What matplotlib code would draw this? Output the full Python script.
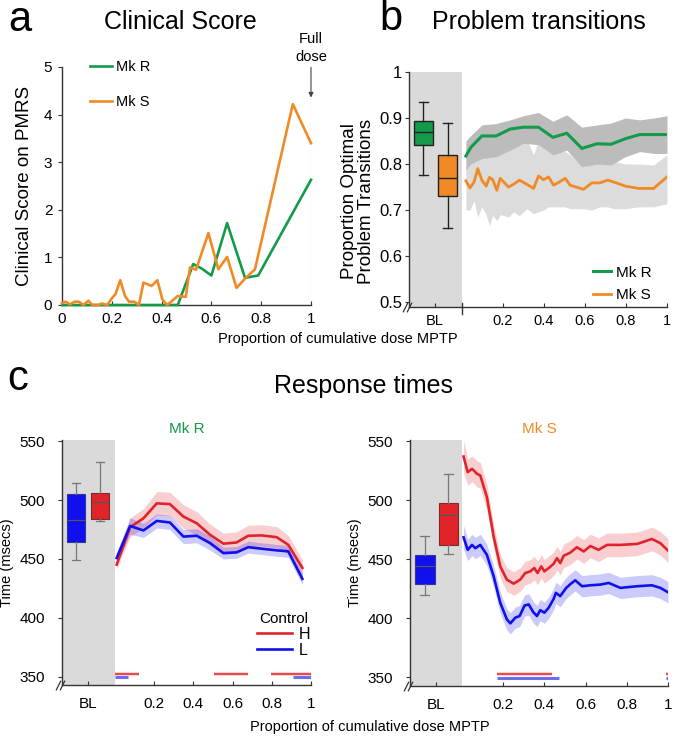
import matplotlib
matplotlib.use("Agg")
import matplotlib.pyplot as plt
import matplotlib.transforms as mtrans

plt.rcParams['font.family'] = ['Liberation Sans', 'DejaVu Sans']

# ---------------- data ----------------
# Panel a: clinical score
a_x_mkS = [0.0, 0.015, 0.032, 0.05, 0.068, 0.086, 0.106, 0.122, 0.143, 0.162, 0.182, 0.2, 0.215,
           0.234, 0.253, 0.269, 0.29, 0.309, 0.327, 0.36, 0.383, 0.403, 0.422, 0.443, 0.465, 0.497,
           0.514, 0.538, 0.588, 0.628, 0.663, 0.701, 0.738, 0.775, 0.927, 1.0]
a_y_mkS = [0.04, 0.07, 0.01, 0.07, 0.07, 0.0, 0.09, 0.0, 0.0, 0.03, 0.0, 0.14, 0.23,
           0.52, 0.19, 0.07, 0.07, 0.0, 0.47, 0.40, 0.52, 0.12, 0.0, 0.09, 0.19, 0.17,
           0.79, 0.74, 1.51, 0.75, 1.01, 0.36, 0.57, 0.75, 4.22, 3.40]
a_x_mkR = [0.0, 0.465, 0.527, 0.56, 0.6, 0.663, 0.735, 0.788, 1.0]
a_y_mkR = [0.0, 0.0, 0.86, 0.77, 0.62, 1.72, 0.57, 0.62, 2.63]

# Panel b: problem transitions
b_x_mkR = [0.02, 0.044, 0.098, 0.167, 0.236, 0.3, 0.374, 0.444, 0.512, 0.585, 0.659, 0.727, 0.797, 0.867, 0.935, 1.0]
b_y_mkR = [0.8175, 0.836, 0.861, 0.861, 0.876, 0.88, 0.88, 0.858, 0.867, 0.834, 0.844, 0.843, 0.855, 0.864, 0.864, 0.864]
b_hi_mkR = [0.85, 0.862, 0.885, 0.888, 0.896, 0.905, 0.912, 0.893, 0.907, 0.88, 0.885, 0.889, 0.9, 0.896, 0.9, 0.905]
b_lo_mkR = [0.787, 0.80, 0.812, 0.816, 0.83, 0.845, 0.842, 0.82, 0.83, 0.794, 0.8, 0.798, 0.816, 0.827, 0.823, 0.823]

b_x_mkS = [0.02, 0.04, 0.06, 0.078, 0.098, 0.119, 0.135, 0.151, 0.171, 0.187, 0.228, 0.252, 0.281, 0.317, 0.35,
           0.374, 0.398, 0.423, 0.447, 0.476, 0.504, 0.528, 0.593, 0.634, 0.672, 0.711, 0.74, 0.797, 0.862, 0.935, 1.0]
b_y_mkS = [0.7635, 0.748, 0.761, 0.79, 0.765, 0.752, 0.771, 0.766, 0.743, 0.769, 0.75, 0.756, 0.765, 0.756, 0.747,
           0.774, 0.766, 0.772, 0.754, 0.761, 0.769, 0.754, 0.745, 0.759, 0.759, 0.765, 0.761, 0.752, 0.747, 0.747, 0.772]
b_hi_mkS = [0.794, 0.809, 0.825, 0.838, 0.812, 0.83, 0.838, 0.82, 0.838, 0.83, 0.845, 0.842, 0.85, 0.853, 0.82,
            0.853, 0.84, 0.83, 0.83, 0.828, 0.827, 0.82, 0.794, 0.8, 0.805, 0.809, 0.806, 0.8, 0.8, 0.798, 0.82]
b_lo_mkS = [0.70, 0.70, 0.72, 0.685, 0.707, 0.69, 0.666, 0.688, 0.677, 0.69, 0.685, 0.696, 0.688, 0.703, 0.692,
            0.696, 0.70, 0.707, 0.707, 0.707, 0.707, 0.703, 0.703, 0.70, 0.707, 0.707, 0.703, 0.703, 0.707, 0.707, 0.714]

# baseline box stats: [median, q1, q3, whislo, whishi]
b_box_mkR = [0.869, 0.842, 0.893, 0.776, 0.935]
b_box_mkS = [0.769, 0.73, 0.82, 0.661, 0.89]

# Panel c: response times, Mk R
cR_x = [0.0085, 0.077, 0.145, 0.213, 0.28, 0.349, 0.417, 0.485, 0.553, 0.62, 0.68, 0.748, 0.825, 0.884, 0.956]
cR_H = [445.2, 477, 484.5, 497.2, 496.6, 486, 480.3, 470.5, 463, 464, 469.7, 470, 468.5, 462, 442.4]
cR_L = [450.8, 478, 474.2, 482.3, 481, 469, 469.7, 463.5, 455, 455.6, 460, 458.7, 457.3, 456.5, 433.1]
cR_H_ci = [4, 8, 8, 10, 10, 10, 10, 9, 9, 9, 9, 9, 9, 8, 7]
cR_L_ci = [5, 7, 6, 6, 6, 6, 6, 6, 5, 5, 5, 5, 5, 5, 5]
cR_box_L = [483.1, 464.3, 505.0, 449.4, 514.9]
cR_box_H = [498.6, 484.3, 506.2, 482.3, 532.6]
cR_sig_H = [(0.0, 0.122), (0.507, 0.68), (0.796, 1.0)]
cR_sig_L = [(0.0, 0.065), (0.91, 1.0)]

# Panel c: response times, Mk S
cS_xH = [0.008, 0.028, 0.049, 0.073, 0.089, 0.121, 0.154, 0.186, 0.218, 0.251, 0.283, 0.307, 0.332, 0.351, 0.367,
         0.385, 0.4, 0.421, 0.445, 0.461, 0.477, 0.494, 0.526, 0.558, 0.591, 0.623, 0.663, 0.704, 0.769, 0.85,
         0.922, 0.963, 1.0]
cS_H = [537, 523.8, 526.6, 522.4, 521, 502.8, 469.2, 444, 432.8, 429.4, 432.8, 438.4, 439.8, 442.6, 438.4,
        444, 439.8, 442.6, 446.2, 451, 446.8, 453, 455.7, 460.2, 456.6, 461.3, 458, 462.2, 462.2, 463,
        467.2, 463.6, 457.4]
cS_H_ci = [14, 11, 11, 11, 11, 11, 10, 10, 10, 10, 10, 10, 10, 10, 10,
           10, 10, 10, 10, 10, 10, 10, 10, 10, 10, 10, 10, 10, 10, 10,
           10, 10, 10]
cS_xL = [0.008, 0.028, 0.049, 0.065, 0.089, 0.121, 0.154, 0.186, 0.218, 0.235, 0.259, 0.28, 0.304, 0.324, 0.346,
         0.364, 0.38, 0.4, 0.421, 0.445, 0.456, 0.477, 0.506, 0.529, 0.55, 0.583, 0.623, 0.672, 0.712, 0.769,
         0.85, 0.922, 0.963, 1.0]
cS_L = [468.6, 458, 462.2, 459.4, 462.2, 453.8, 435.6, 413.2, 399.2, 395.8, 400.6, 402, 410.9, 411.8, 405.3,
        402, 407, 404.8, 409, 416.5, 421.6, 418.8, 425.8, 429.4, 432.2, 427.2, 428, 428.6, 430, 425.8,
        427.2, 428, 425.8, 422.1]
cS_L_ci = [10, 9, 9, 9, 9, 9, 9, 9, 9, 9, 9, 9, 9, 9, 9,
           9, 9, 9, 9, 9, 9, 9, 9, 9, 9, 9, 9, 9, 9, 9,
           9, 9, 9, 9]
cS_box_L = [444.5, 429.4, 453.8, 420.2, 469.8]
cS_box_H = [487.4, 462.2, 497.8, 454.6, 522.4]
cS_sig_H = [(0.17, 0.437), (0.99, 1.0)]
cS_sig_L = [(0.17, 0.472), (0.99, 1.0)]

tick_vals = [0.2, 0.4, 0.6, 0.8, 1.0]
tick_labs = ['0.2', '0.4', '0.6', '0.8', '1']

# ---------------- style ----------------
GREEN = '#139a4a'
ORANGE = '#f08a24'
RED = '#e0242a'
BLUE = '#1010ee'
GRAY_BL = '#d9dad9'
DARK_BAND = '#bcbcbc'
LIGHT_BAND = '#dcdcdc'
SPINE = '#333333'

W, H = 674, 736
fig = plt.figure(figsize=(W / 100, H / 100), dpi=100)


def add_ax(l, t, r, b):
    return fig.add_axes([l / W, 1 - b / H, (r - l) / W, (b - t) / H])


def style(ax, xsize=10, ysize=10):
    for s in ('top', 'right'):
        ax.spines[s].set_visible(False)
    for s in ('left', 'bottom'):
        ax.spines[s].set_color(SPINE)
        ax.spines[s].set_linewidth(1.0)
    ax.tick_params(axis='x', direction='in', length=3, color=SPINE, labelsize=xsize, pad=5)
    ax.tick_params(axis='y', direction='out', length=3, color=SPINE, labelsize=ysize, pad=4)


def box_stats(vals, label):
    med, q1, q3, lo, hi = vals
    return dict(med=med, q1=q1, q3=q3, whislo=lo, whishi=hi, fliers=[], label=label)


def break_marks(ax):
    for off in (-4.0, 0.0):
        tr = ax.transAxes + mtrans.ScaledTranslation(off / 100, 0, fig.dpi_scale_trans)
        ax.plot([0], [0], marker=[(-1, -2), (1, 2)], ms=7, mew=0.9, color=SPINE,
                transform=tr, clip_on=False, zorder=10)


# ---------------- panel a ----------------
axa = add_ax(62, 67, 311, 305)
style(axa, 11, 11)
axa.plot(a_x_mkR, a_y_mkR, color=GREEN, lw=1.9, label='Mk R', clip_on=False, zorder=3)
axa.plot(a_x_mkS, a_y_mkS, color=ORANGE, lw=1.9, label='Mk S', clip_on=False, zorder=4)
axa.set_xlim(0, 1)
axa.set_ylim(0, 5)
axa.set_xticks([0, 0.2, 0.4, 0.6, 0.8, 1.0])
axa.set_xticklabels(['0', '0.2', '0.4', '0.6', '0.8', '1'])
axa.set_yticks([0, 1, 2, 3, 4, 5])
axa.set_ylabel('Clinical Score on PMRS', fontsize=13.5, labelpad=8)
axa.axvline(1.0, color='#777777', lw=0.8, ls=(0, (1, 1.5)), zorder=1)
axa.annotate('', xy=(1.0, 4.3), xytext=(1.0, 5.05),
             arrowprops=dict(arrowstyle='-|>', color='#444444', lw=0.8, mutation_scale=7),
             annotation_clip=False)
axa.text(1.0, 5.07, 'Full\ndose', ha='center', va='bottom', fontsize=10.5, linespacing=1.3)
axa.legend(loc='upper left', bbox_to_anchor=(77 / W, 1 - 47 / H), bbox_transform=fig.transFigure,
           frameon=False, fontsize=10.5, handlelength=1.5, handletextpad=0.3, labelspacing=1.45)

# ---------------- panel b ----------------
axb = add_ax(409, 72, 667, 306.7)
style(axb, 10.5, 12)
axb.set_xlim(-0.257, 1.0)
axb.set_ylim(0.49, 1.0)
axb.axvspan(-0.257, 0, color=GRAY_BL, lw=0, zorder=0)
axb.fill_between(b_x_mkS, b_lo_mkS, b_hi_mkS, color=LIGHT_BAND, lw=0, zorder=1)
axb.fill_between(b_x_mkR, b_lo_mkR, b_hi_mkR, color=DARK_BAND, lw=0, zorder=2)
axb.plot(b_x_mkR, b_y_mkR, color=GREEN, lw=2.2, label='Mk R', zorder=4)
axb.plot(b_x_mkS, b_y_mkS, color=ORANGE, lw=2.0, label='Mk S', zorder=4)
bpb = axb.bxp([box_stats(b_box_mkR, 'R'), box_stats(b_box_mkS, 'S')], positions=[-0.187, -0.069],
              widths=0.09, patch_artist=True, showfliers=False, manage_ticks=False,
              boxprops=dict(edgecolor='#222222', lw=1.0),
              whiskerprops=dict(color='#222222', lw=1.0), capprops=dict(color='#222222', lw=1.0),
              medianprops=dict(color='#222222', lw=1.0), capwidths=0.045)
for patch, col in zip(bpb['boxes'], [GREEN, ORANGE]):
    patch.set_facecolor(col)
axb.set_xticks([-0.13] + tick_vals)
axb.set_xticklabels(['BL'] + tick_labs)
axb.set_yticks([0.5, 0.6, 0.7, 0.8, 0.9, 1.0])
axb.set_yticklabels(['0.5', '0.6', '0.7', '0.8', '0.9', '1'])
axb.tick_params(axis='y', pad=2)
axb.set_ylabel('Proportion Optimal\nProblem Transitions', fontsize=13.5, labelpad=3, linespacing=1.0)
axb.yaxis.label.set_y((306.7 - 201) / 234.7)
axb.plot([0, 0], [-0.03, 0.015], transform=axb.get_xaxis_transform(), color=SPINE, lw=1.0, clip_on=False)
break_marks(axb)
axb.legend(loc='upper left', bbox_to_anchor=(579 / W, 1 - 252 / H), bbox_transform=fig.transFigure,
           frameon=False, fontsize=11, handlelength=1.2, handletextpad=0.35, labelspacing=0.55)


# ---------------- panel c ----------------
def panel_c(ax, xlim0, xH, yH, ciH, xL, yL, ciL, boxL, boxH, posL, posH, sigH, sigL, bl_pos):
    style(ax, 11, 11)
    ax.set_xlim(xlim0, 1.0)
    ax.set_ylim(343, 551)
    ax.axvspan(xlim0, 0, color=GRAY_BL, lw=0, zorder=0)
    ax.fill_between(xH, [v - c for v, c in zip(yH, ciH)], [v + c for v, c in zip(yH, ciH)],
                    color=RED, alpha=0.22, lw=0, zorder=1)
    ax.fill_between(xL, [v - c for v, c in zip(yL, ciL)], [v + c for v, c in zip(yL, ciL)],
                    color=BLUE, alpha=0.22, lw=0, zorder=1)
    ax.plot(xH, yH, color=RED, lw=1.9, label='H', zorder=3)
    ax.plot(xL, yL, color=BLUE, lw=1.9, label='L', zorder=3)
    bp = ax.bxp([box_stats(boxL, 'L'), box_stats(boxH, 'H')], positions=[posL, posH],
                widths=0.095, patch_artist=True, showfliers=False, manage_ticks=False,
                boxprops=dict(edgecolor='#7a2a2a', lw=0.8),
                whiskerprops=dict(color='#777777', lw=0.9), capprops=dict(color='#777777', lw=0.9),
                medianprops=dict(color='#555555', lw=0.9), capwidths=0.045)
    bp['boxes'][0].set_facecolor(BLUE)
    bp['boxes'][0].set_edgecolor('#333399')
    bp['boxes'][1].set_facecolor(RED)
    for a, b_ in sigH:
        ax.plot([a, b_], [352.6, 352.6], color=RED, lw=1.1, solid_capstyle='butt', zorder=2)
        ax.plot([a, b_], [352.6, 352.6], color=RED, lw=3.0, alpha=0.2, solid_capstyle='butt', zorder=2)
    for a, b_ in sigL:
        ax.plot([a, b_], [349.5, 349.5], color='#6d6df2', lw=2.2, solid_capstyle='butt', zorder=2)
    ax.set_xticks([bl_pos] + tick_vals)
    ax.set_xticklabels(['BL'] + tick_labs)
    ax.set_yticks([350, 400, 450, 500, 550])
    ax.tick_params(axis='y', pad=9)
    ax.tick_params(axis='x', pad=9)
    ax.set_ylabel('Time (msecs)', fontsize=10.5, labelpad=4)
    break_marks(ax)


axcl = add_ax(61.7, 440, 311, 685)
panel_c(axcl, -0.272, cR_x, cR_H, cR_H_ci, cR_x, cR_L, cR_L_ci, cR_box_L, cR_box_H,
        -0.199, -0.077, cR_sig_H, cR_sig_L, -0.137)
axcl.set_title('Mk R', color=GREEN, fontsize=11, pad=5)
axcl.legend(loc='upper right', bbox_to_anchor=(321 / W, 1 - 601 / H), bbox_transform=fig.transFigure,
            title='Control', title_fontsize=11, frameon=False, fontsize=11.5, handlelength=2.2,
            handletextpad=0.4, labelspacing=0.05, borderpad=0.2)

axcr = add_ax(410, 440, 668, 685.7)
panel_c(axcr, -0.252, cS_xH, cS_H, cS_H_ci, cS_xL, cS_L, cS_L_ci, cS_box_L, cS_box_H,
        -0.18, -0.066, cS_sig_H, cS_sig_L, -0.126)
axcr.set_title('Mk S', color=ORANGE, fontsize=11, pad=5)

# ---------------- figure texts ----------------
fig.text(8 / W, 1 - 31 / H, 'a', fontsize=30, va='baseline', ha='left')
fig.text(379 / W, 1 - 30 / H, 'b', fontsize=30, va='baseline', ha='left')
fig.text(7 / W, 1 - 390 / H, 'c', fontsize=30, va='baseline', ha='left')
fig.text(180 / W, 1 - 22 / H, 'Clinical Score', fontsize=18, ha='center', va='center')
fig.text(539 / W, 1 - 22 / H, 'Problem transitions', fontsize=18, ha='center', va='center')
fig.text(363 / W, 1 - 386 / H, 'Response times', fontsize=18, ha='center', va='center')
fig.text(338 / W, 1 - 339 / H, 'Proportion of cumulative dose MPTP', fontsize=10.5, ha='center', va='center')
fig.text(370 / W, 1 - 727 / H, 'Proportion of cumulative dose MPTP', fontsize=10.5, ha='center', va='center')

fig.savefig('out.png', dpi=100)
